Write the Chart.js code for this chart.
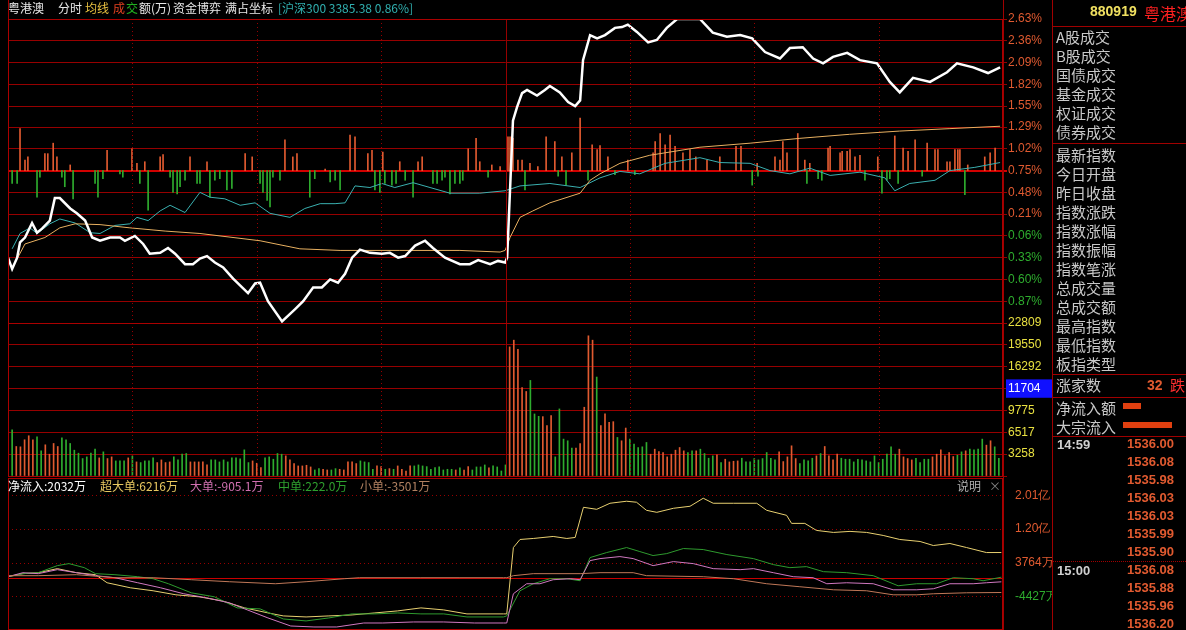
<!DOCTYPE html>
<html><head><meta charset="utf-8">
<script src="https://cdn.jsdelivr.net/npm/chart.js@4.4.1/dist/chart.umd.min.js"></script>
<style>
html,body{margin:0;padding:0;background:#000;width:1186px;height:630px;overflow:hidden;}
canvas{position:absolute;left:0;top:0;}
.t{position:absolute;white-space:nowrap;font-family:"Noto Sans CJK SC","Liberation Sans",sans-serif;}
.h{font-size:12px;line-height:14px;}
.p{font-size:15px;line-height:19px;color:#c8c8c8;left:1056px;}
.n{font-family:"Liberation Sans",sans-serif;font-weight:bold;font-size:13px;line-height:16px;color:#e05a30;left:1127px;}
.ln{position:absolute;background:#a00000;}
</style></head><body>
<canvas id="c1" width="1186" height="630"></canvas>
<canvas id="c2" width="1186" height="630"></canvas>
<canvas id="c3" width="1186" height="630"></canvas>
<div id="ov"></div>
<script>
// ---------- data ----------
const priceT=[0,1,2.2,2.9,4.1,5.8,7,8.2,10.1,11.3,12.5,15,16.6,18.6,20.3,22.2,24.6,27,28.2,30.6,32.6,34.2,36.7,38.6,40.3,42.7,44.6,46.3,48,49.9,51.9,54.3,57.9,59.6,60.8,62.7,66.1,69.2,71.2,73.6,75.7,77.7,79.6,81.3,83,84.9,87.3,90.2,92.1,94.1,95.8,98.2,100.6,102.5,105.4,109,111.4,113.4,116.3,118.2,119.9,120.4,121.8,122.8,124,125.2,127.6,129.5,130.7,133.1,135.1,136.8,138,138.7,140.4,142.1,144,146.4,148.1,149.5,151.7,154.4,156.5,158.9,161.4,164.5,166.9,170,173.4,176.6,179.5,182.6,186.2,188.6,191.7,194.2,196.6,199,202.4,205.5,209.6,212.7,215.1,218.3,222.4,226.5,228.9,232.8,236.4,239.3];
const priceV=[-0.33,-0.47,-0.33,-0.14,-0.08,0.10,-0.02,0.03,0.13,0.41,0.41,0.28,0.22,0.13,-0.08,-0.12,-0.08,-0.08,-0.12,-0.06,-0.16,-0.28,-0.27,-0.21,-0.28,-0.41,-0.41,-0.34,-0.31,-0.39,-0.45,-0.59,-0.77,-0.65,-0.64,-0.87,-1.12,-0.97,-0.87,-0.70,-0.70,-0.60,-0.64,-0.53,-0.33,-0.23,-0.27,-0.28,-0.27,-0.33,-0.31,-0.18,-0.12,-0.21,-0.33,-0.41,-0.41,-0.36,-0.41,-0.37,-0.39,-0.33,1.37,1.54,1.71,1.75,1.68,1.75,1.80,1.72,1.60,1.55,1.62,2.12,2.43,2.39,2.43,2.52,2.53,2.56,2.47,2.34,2.37,2.52,2.63,2.63,2.63,2.46,2.41,2.43,2.39,2.22,2.14,2.27,2.28,2.14,2.08,2.16,2.21,2.12,2.08,1.85,1.72,1.90,1.85,1.97,2.08,2.03,1.96,2.03];
const avgT=[1,4.1,8.9,12.5,16.2,22.2,29.4,37.9,46.3,60.8,70.4,80.1,94.5,109,118.7,119.9,121.1,123.5,126.6,130.7,138,140.4,142.8,147.6,154.8,166.9,179,191,203,215,227,239.3];
const avgV=[-0.46,-0.16,-0.08,0.04,0.09,0.08,0.04,0.00,-0.03,-0.12,-0.22,-0.24,-0.24,-0.24,-0.26,-0.24,-0.08,0.17,0.25,0.35,0.47,0.63,0.71,0.84,0.94,1.04,1.09,1.15,1.20,1.24,1.27,1.30];
const tealT=[1,2.9,5.3,7,10.1,12.5,16.2,19.8,22.2,25.8,29.4,31.1,33.8,36.7,39.1,42.7,46.3,48.7,52.3,56,59.6,63.2,68,71.6,75.3,78.9,81.3,83.7,87.3,90.2,93.3,97.7,101.8,106.6,113.8,119.9,123.5,130.7,138,142.8,147.6,152.4,158.5,166.9,171.7,179,183.8,188.6,193.4,198.3,205.5,211.5,213.9,217.5,223.6,227.2,233.2,239.3];
const tealV=[-0.22,-0.03,0.04,-0.03,0.09,0.15,0.10,-0.02,-0.03,0.07,0.09,0.17,0.13,0.25,0.32,0.23,0.48,0.42,0.40,0.32,0.35,0.22,0.17,0.28,0.34,0.34,0.35,0.56,0.54,0.59,0.54,0.60,0.54,0.47,0.47,0.50,0.56,0.59,0.54,0.66,0.74,0.71,0.84,0.91,0.85,0.84,0.75,0.71,0.78,0.69,0.73,0.66,0.50,0.59,0.63,0.75,0.79,0.85];
const gameBase=0.75;
const gameT=[1,2.2,2.9,4.1,4.8,7,7.7,8.9,9.6,10.9,11.8,13,13.7,15,15.7,21,21.7,22.9,23.9,27,27.7,29.9,31.1,31.8,33,33.8,36.7,37.4,39.1,39.8,40.8,41.5,42.7,43.9,45.6,46.3,48,48.7,49.9,51.1,52.8,54,57.2,58.9,60.8,61.5,62.5,63.2,63.9,65.6,66.8,68.7,69.7,72.8,74,76.5,77.7,78.9,80.1,82.5,83.7,86.8,87.8,88.5,89.7,90.4,90.9,92.6,93.6,94.5,95.8,97.7,98.9,99.9,102.5,103.5,104.7,105.4,106.6,107.8,109,109.7,111,112.9,113.8,115.8,116.7,118.7,120.6,121.1,121.8,123,124,124.7,125.9,127.8,129.8,131.9,132.7,133.6,134.6,136,138,139.9,140.9,142.1,142.8,144.7,146.4,149.5,151.2,155.6,156.1,157.3,158.5,159.7,160.9,162.8,164.5,165.9,168.6,171.7,175.6,176.8,179.5,180.7,180.9,185,186.2,186.9,187.9,190.5,192.2,192.7,193.4,195.4,196.3,197.8,198.3,200.7,201.2,202.4,203.1,204.3,205.5,206.7,209.8,210.8,212,212.7,213.9,214.7,215.9,217.1,218.8,220.5,221.7,223.6,224.3,226.5,227.2,228.4,229.1,229.6,230.8,231.5,235.6,236.9,238.1];
const gameV=[-0.16,-0.16,0.52,0.13,0.17,-0.33,-0.08,0.21,0.21,0.34,0.17,-0.08,-0.20,0.07,-0.35,-0.16,-0.33,-0.10,0.25,-0.04,-0.08,0.27,0.09,-0.16,0.11,-0.49,0.17,0.20,-0.08,-0.27,-0.29,-0.20,-0.12,0.17,-0.16,-0.16,0.11,-0.33,-0.12,-0.10,-0.24,-0.22,0.21,0.17,-0.16,-0.27,-0.37,-0.45,-0.08,-0.12,0.38,0.17,0.21,-0.33,-0.10,0.02,-0.14,-0.12,-0.24,0.44,0.42,0.21,0.25,-0.24,-0.27,0.23,-0.16,-0.18,-0.16,0.11,-0.12,-0.33,0.11,0.17,-0.16,-0.16,-0.12,-0.08,-0.29,-0.16,-0.16,-0.12,0.27,0.40,0.11,-0.08,0.07,0.05,0.42,0.42,0.40,0.13,0.13,-0.24,0.09,0.05,0.42,0.36,-0.07,0.17,-0.18,0.22,0.65,-0.12,0.32,0.26,0.31,0.17,-0.05,0.13,-0.05,0.22,0.36,0.46,0.32,0.44,0.30,0.22,0.26,0.17,0.13,0.17,0.30,0.30,-0.18,0.09,-0.07,0.17,0.13,0.36,0.22,0.46,0.13,-0.16,0.09,-0.10,-0.12,0.28,0.30,0.22,0.24,0.24,0.26,0.17,0.19,-0.12,0.17,-0.28,-0.12,-0.10,0.43,-0.16,0.28,0.24,0.38,-0.07,0.34,0.26,0.26,0.11,0.11,0.26,0.26,0.26,-0.30,0.07,0.17,0.22,0.28];
const pctTicks=[2.63,2.36,2.09,1.82,1.55,1.29,1.02,0.75,0.48,0.21,-0.06,-0.33,-0.60,-0.87,-1.14];
const pctLabels=['2.63%','2.36%','2.09%','1.82%','1.55%','1.29%','1.02%','0.75%','0.48%','0.21%','0.06%','0.33%','0.60%','0.87%',''];
const priceLabels=['1545.15','1541.11','1537.07','1533.03','1528.99','1524.95','1520.91','1516.87','1512.83','1508.79','1504.74','1500.70','1496.66','1492.62','1488.59'];
const volAM=[6900,4400,4350,5400,6000,5400,5850,3750,4650,3250,4850,4400,5700,5400,4850,3850,3400,2600,2850,3400,4000,2700,3600,2600,2850,2250,2250,2250,2700,3000,2100,2000,2250,2250,2700,2000,2400,2000,2100,2850,2400,3250,3350,2100,2100,2100,2100,1650,2400,2400,2100,2400,2100,2700,2700,2550,3900,2000,2250,1900,1250,2700,2850,2500,3350,3250,3000,2400,1850,1500,1500,1600,1350,900,1100,1000,900,900,1100,1000,900,2100,2100,1850,2250,2100,2000,1000,1500,1400,1000,1100,1000,1500,1000,750,1500,1500,1650,1500,1400,1000,1250,1350,900,1000,1000,900,1200,900,1400,900,1350,1350,1650,1200,1500,1350,750,1650];
const volAMc="grrrrrggrrrrggggggggg rgrrgggrgrggggrrrrggggrrrrrggggggggggrrrggggg rrrrrrrggrrggrrrrrggggrrgrgrrrrggggggggggr grrgggg rg".replace(/ /g,'');
const volPM=[19250,20250,18900,13200,12600,14250,9250,8900,8850,7500,9000,2850,10000,5500,5250,4150,4150,4850,10250,20900,20250,14750,7500,9250,8000,8100,5750,5250,7150,5500,4750,4250,4350,5000,3250,4000,3650,3500,2850,3250,3850,4250,3750,3500,3750,3750,4000,3350,2650,3000,3150,2000,2500,2100,2200,2250,2650,2100,2100,2600,2400,2600,3500,2650,2400,3600,2150,2850,4500,2600,1850,2400,2250,2650,3000,3350,4400,3000,2400,3250,2650,2500,2500,2100,2500,2400,2250,2100,3000,2000,2500,3250,4350,3250,4000,2850,2600,2400,2650,2000,2500,2500,2850,3250,3900,3000,3500,2900,3100,3600,3750,4000,3900,4000,5500,4600,5250,4350,2650];
const volPMc="rrrrrgggrrrgggggrrrrrgrrrrgrrgggggrrrrrrrrrggrgggg rgrrrrggg gggggg rrrrrgggg rgrrrrggggggggggggggrrrrggggrrrrrrggrggggrr".replace(/ /g,'');
const volTicks=[0,3258,6517,9775,13034,16292,19550,22809];
const volLabels=['','3258','6517','9775','11704','16292','19550','22809'];
const superT=[0,3.6,7.3,11.9,16.5,21.1,23.9,29.5,35,40.5,46.1,51.6,57.1,62.7,66.4,71.9,77.4,83,88.5,94,99.6,105.1,110.7,119.5,120.3,121.9,123.5,126.7,131.5,134.8,136.8,138.8,142,145.2,149.2,151.6,154,156.5,160.5,164.5,167.7,170.1,175,180.6,183,187.8,189,192.2,195,199.1,203.1,207.1,211.1,215.1,220,223.2,227.2,231.2,236,239.6];
const superV=[340,1080,1320,2300,1320,830,-1130,-2350,-3080,-4060,-4550,-5530,-7240,-8460,-9190,-9440,-9190,-8950,-8460,-7970,-7240,-7730,-8700,-8700,-8700,7430,9390,9630,10120,9630,9880,17210,16720,18190,18680,18440,16480,15990,16970,17460,19410,18190,18190,18190,16480,15260,13300,13300,11590,11100,11350,11100,10370,9390,8900,7920,8410,7430,6210,6216];
const midT=[0,3.6,7.3,11.9,14.7,18.4,21.1,25.8,31.3,35,38.7,44.2,49.8,55.3,60.8,66.4,71.9,77.4,83,88.5,94,99.6,105.1,110.7,119.5,120.3,123.5,126.7,130.7,134.8,138,140.4,144.4,149.2,152.4,155.6,158.9,162.9,167.7,173.4,179.8,184.6,188.6,192.6,196.7,202.3,208.7,214.7,219.2,224,228,232.8,235.2,239.6];
const midV=[340,1080,1320,3030,3520,2540,1080,830,340,-150,-1370,-3570,-4550,-7240,-7480,-9930,-10410,-9680,-8700,-8700,-8460,-8700,-8700,-9440,-9440,-9190,-3080,-1370,-150,-150,-640,4990,6210,7430,6450,5480,5960,7190,6940,5720,4740,3280,2540,2790,1560,1320,590,-1860,-1370,-1370,100,-150,-640,222];
const bigT=[0,3.6,7.3,11.9,16.5,21.1,25.8,31.3,36.8,42.4,47.9,53.4,57.1,62.7,68.2,73.8,79.3,85.8,90.4,97.8,105.1,112.5,119.5,120.3,121.9,125.1,128.3,131.5,135.6,138,140.4,142.8,147.6,150.8,155.6,160.5,165.3,170.1,176.6,179.8,184.6,189.4,194.2,197.5,202.3,208.7,213.5,219.2,223.2,227.2,232.8,236,239.6];
const bigV=[340,1320,1080,2050,1320,590,100,-1130,-2350,-3810,-4790,-6010,-7480,-9680,-11640,-11880,-11880,-10910,-10910,-10660,-10660,-10910,-10910,-10910,-3810,-1370,-1370,-390,-150,-390,4250,4740,5230,4740,3030,4010,3520,2300,2050,2300,1320,340,100,-1370,-1130,-1370,-2840,-2840,-2590,-1370,-1370,-1130,-905];
const smallT=[0,7.3,16.5,25.8,35,44.2,53.4,64.5,71.9,81.1,84.8,99.6,108.8,119.5,120.3,121.9,126.7,138,142.8,150.8,154,167.7,175,183,191,199.1,207.1,213.5,219.2,223.2,231.2,239.6];
const smallV=[590,590,830,100,100,-390,-880,-1370,-880,-150,100,100,100,100,100,590,1080,1080,1320,1320,590,340,-150,-1370,-2100,-2840,-3080,-4060,-4060,-3810,-3570,-3501];
const flowTicks=[-4427,3764,11955,20146];
const flowLabels=['-4427万','3764万','1.20亿','2.01亿'];
const panelRows1=['A股成交','B股成交','国债成交','基金成交','权证成交','债券成交'];
const panelRows2=['最新指数','今日开盘','昨日收盘','指数涨跌','指数涨幅','指数振幅','指数笔涨','总成交量','总成交额','最高指数','最低指数','板指类型'];
const tickPrices=['1536.00','1536.08','1535.98','1536.03','1536.03','1535.99','1535.90','1536.08','1535.88','1535.96','1536.20'];

// ---------- helpers ----------
const RED='#e05a30', GRN='#2eac2e', GRID='rgb(150,0,0)';
const pts=(T,V)=>T.map((t,i)=>({x:t,y:V[i]}));
const NUMF={family:'Liberation Sans, sans-serif',size:12};
const xScale={type:'linear',min:0,max:240,display:false,offset:false};
function frame(){return {id:'frame',afterDraw(ch,a,o){const c=ch.ctx,A=ch.chartArea,x=ch.scales.x;c.save();
  if(o.vert){[30,60,90,120,150,180,210].forEach(m=>{const px=Math.round(x.getPixelForValue(m))+0.5;c.strokeStyle=GRID;c.lineWidth=1;c.setLineDash(m===120?[]:[1,3]);c.beginPath();c.moveTo(px,A.top);c.lineTo(px,A.bottom);c.stroke();});}
  c.setLineDash([]);c.strokeStyle='rgb(170,0,0)';c.lineWidth=1;c.strokeRect(A.left+0.5,A.top+0.5,A.right-A.left-1,A.bottom-A.top);c.restore();}};}
const fitW=w=>s=>{s.width=w;s.paddingTop=0;s.paddingBottom=0;};
function rAxis(extra){return Object.assign({position:'right',afterFit:fitW(49),border:{display:false}},extra);}
function lAxis(extra){return Object.assign({position:'left',afterFit:fitW(8),border:{display:false},grid:{display:false}},extra);}
const base={responsive:false,animation:false,devicePixelRatio:1,plugins:{legend:{display:false},tooltip:{enabled:false}}};
const lay=(t,b)=>({autoPadding:false,padding:{top:t,bottom:b,right:134,left:0}});

// ---------- price panel ----------
new Chart(document.getElementById('c1'),{data:{datasets:[
 {type:'line',data:pts(priceT,priceV),borderColor:'#ffffff',borderWidth:2.5,pointRadius:0,order:0},
 {type:'line',data:pts(avgT,avgV),borderColor:'#e8b060',borderWidth:1,pointRadius:0,order:1},
 {type:'line',data:pts(tealT,tealV),borderColor:'#3ab0b0',borderWidth:1,pointRadius:0,order:2},
 {type:'bar',data:gameT.map((t,i)=>({x:t,y:[gameBase,gameBase+gameV[i]]})),backgroundColor:gameV.map(v=>v>=0?RED:GRN),barThickness:1,order:3}
]},options:Object.assign({},base,{layout:lay(19,307),
 plugins:Object.assign({},base.plugins,{frame:{vert:true}}),
 scales:{x:xScale,
  y:rAxis({min:-1.14,max:2.63,afterBuildTicks:s=>{s.ticks=pctTicks.map(v=>({value:v}));},
   grid:{color:c=>c.tick&&c.tick.value===0.75?'rgb(210,0,0)':GRID,lineWidth:c=>c.tick&&c.tick.value===0.75?2:1,tickLength:4,drawOnChartArea:true},
   ticks:{padding:1,font:NUMF,crossAlign:'near',color:c=>c.tick.value<0?GRN:RED,callback:(v,i)=>pctLabels[i]}}),
  yl:lAxis({min:-1.14,max:2.63,afterBuildTicks:s=>{s.ticks=pctTicks.map(v=>({value:v}));},
   ticks:{padding:1,font:NUMF,color:c=>c.tick.value<0?GRN:RED,callback:(v,i)=>priceLabels[i]}})}}),plugins:[frame()]});

// ---------- volume panel ----------
const volData=volAM.map((v,i)=>({x:1+i*119/(volAM.length-1),y:v,c:volAMc[i]})).concat(volPM.map((v,i)=>({x:121+i,y:v,c:volPMc[i]})));
new Chart(document.getElementById('c2'),{type:'bar',data:{datasets:[{data:volData,backgroundColor:volData.map(d=>d.c==='r'?RED:GRN),barThickness:1}]},
 options:Object.assign({},base,{layout:lay(323,154),
 plugins:Object.assign({},base.plugins,{frame:{vert:true}}),
 scales:{x:xScale,
  y:rAxis({min:0,max:22809,afterBuildTicks:s=>{s.ticks=volTicks.map(v=>({value:v}));},
   grid:{color:GRID,tickLength:4},
   ticks:{padding:1,font:NUMF,crossAlign:'near',color:c=>c.index===4?'#ffffff':'#e8e040',callback:(v,i)=>volLabels[i],
    showLabelBackdrop:c=>c.index===4,backdropColor:'#1010ff',backdropPadding:{top:2,bottom:2,left:2,right:12}}}),
  yl:lAxis({min:0,max:22809,afterBuildTicks:s=>{s.ticks=volTicks.map(v=>({value:v}));},ticks:{padding:1,font:NUMF,color:'#e8e040',callback:(v,i)=>volLabels[i]}})}}),plugins:[frame()]});

// ---------- money flow panel ----------
const zeroLine={id:'zl',beforeDatasetsDraw(ch){const c=ch.ctx,A=ch.chartArea,y=ch.scales.y;c.save();
  flowTicks.forEach(v=>{const py=Math.round(y.getPixelForValue(v))+0.5;c.strokeStyle=GRID;c.setLineDash([1,3]);c.beginPath();c.moveTo(A.left,py);c.lineTo(A.right,py);c.stroke();});
  c.setLineDash([]);const p0=Math.round(y.getPixelForValue(0))+0.5;c.strokeStyle='rgb(200,0,0)';c.beginPath();c.moveTo(A.left,p0);c.lineTo(A.right,p0);c.stroke();c.restore();}};
new Chart(document.getElementById('c3'),{type:'line',data:{datasets:[
 {data:pts(smallT,smallV),borderColor:'#c07858',borderWidth:1,pointRadius:0},
 {data:pts(bigT,bigV),borderColor:'#d078c0',borderWidth:1,pointRadius:0},
 {data:pts(midT,midV),borderColor:'#2e9a2e',borderWidth:1,pointRadius:0},
 {data:pts(superT,superV),borderColor:'#e8d070',borderWidth:1,pointRadius:0}
]},options:Object.assign({},base,{layout:lay(478,1),
 plugins:Object.assign({},base.plugins,{frame:{vert:false}}),
 scales:{x:xScale,
  y:rAxis({min:-12370,max:24330,afterBuildTicks:s=>{s.ticks=flowTicks.map(v=>({value:v}));},grid:{display:false},
   ticks:{padding:4,font:NUMF,crossAlign:'near',color:c=>c.tick.value<0?GRN:RED,callback:(v,i)=>flowLabels[i]}}),
  yl:lAxis({min:-12370,max:24330,afterBuildTicks:s=>{s.ticks=flowTicks.map(v=>({value:v}));},ticks:{padding:1,font:NUMF,color:c=>c.tick.value<0?GRN:RED,callback:(v,i)=>flowLabels[i]}})}}),plugins:[zeroLine,frame()]});

// ---------- text overlay ----------
const ov=document.getElementById('ov');
function T(txt,x,y,cls,style){const d=document.createElement('div');d.className='t '+(cls||'');d.textContent=txt;d.style.left=x+'px';d.style.top=y+'px';if(style)d.setAttribute('style',d.getAttribute('style')+';'+style);ov.appendChild(d);return d;}
function L(x,y,w,h,col){const d=document.createElement('div');d.className='ln';d.style.cssText+=`left:${x}px;top:${y}px;width:${w}px;height:${h}px;`+(col?`background:${col};`:'');ov.appendChild(d);}
T('粤港澳',8,1,'h','color:#e8e8e8');T('分时',58,1,'h','color:#e8e8e8');T('均线',85,1,'h','color:#e8c040');
T('成',113,1,'h','color:#e04020');T('交',126,1,'h','color:#20b020');T('额(万)',139,1,'h','color:#e8e8e8');
T('资金博弈',173,1,'h','color:#e8e8e8');T('满占坐标',225,1,'h','color:#e8e8e8');T('[沪深300 3385.38 0.86%]',278,1,'h','color:#30b0b0');
T('净流入:2032万',8,479,'h','color:#ffffff');T('超大单:6216万',100,479,'h','color:#e8c860');T('大单:-905.1万',190,479,'h','color:#d070b0');
T('中单:222.0万',278,479,'h','color:#2ea02e');T('小单:-3501万',360,479,'h','color:#b08060');
T('说明',957,479,'h','color:#b0b0b0');T('×',989,479,'h','color:#808080');
L(1003,0,1,630,'#a00000');L(1052,0,1,630,'#a00000');L(8,0,1,19,'#a00000');
L(1053,26,133,1);L(1053,143,133,1);L(1053,374,133,1);L(1053,397,133,1);L(1053,436,133,1);
T('880919',1090,3,'', 'font-family:Liberation Sans;font-weight:bold;font-size:14px;color:#f0e060');
T('粤港澳',1144,1,'','font-size:16px;color:#ff2020');
panelRows1.forEach((s,i)=>T(s,1056,27+i*19,'p'));
panelRows2.forEach((s,i)=>T(s,1056,145+i*19,'p'));
T('涨家数',1056,375,'p');T('32',1147,377,'','font-family:Liberation Sans;font-weight:bold;font-size:14px;color:#e05a30');T('跌',1170,375,'p','color:#ff3030');
T('净流入额',1056,398,'p');T('大宗流入',1056,417,'p');
L(1123,403,18,6,'#e04010');L(1123,422,49,6,'#e04010');
T('14:59',1057,437,'','font-family:Liberation Sans;font-weight:bold;font-size:13px;color:#d0d0d0');
T('15:00',1057,563,'','font-family:Liberation Sans;font-weight:bold;font-size:13px;color:#d0d0d0');
tickPrices.forEach((s,i)=>T(s,1127,436+i*18,'n'));
const dl=document.createElement('div');dl.style.cssText='position:absolute;left:1053px;top:561px;width:133px;border-top:1px dotted #a00000';ov.appendChild(dl);
</script></body></html>
